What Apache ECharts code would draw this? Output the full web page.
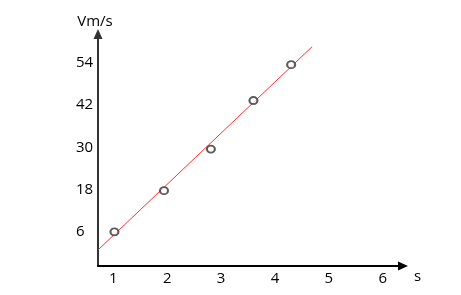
<!DOCTYPE html>
<html>
<head>
<meta charset="utf-8">
<script src="https://cdn.jsdelivr.net/npm/echarts@6/dist/echarts.min.js"></script>
<style>html,body{margin:0;padding:0;background:#fff}#c{width:461px;height:295px}</style>
</head>
<body>
<div id="c"></div>
<script>
// Tick labels
const xTicks = [1, 2, 3, 4, 5, 6];
const yTicks = [6, 18, 30, 42, 54];
// Measured points (time s, speed m/s)
const timeS = [1.02, 1.94, 2.81, 3.6, 4.3];
const speed = [6, 17.7, 29.5, 43.3, 53.5];
// Fitted trend line end points
const fitX = [0.715, 4.69];
const fitY = [0.85, 58.6];

const FONT = '"Open Sans", sans-serif';
const chart = echarts.init(document.getElementById('c'), null, {renderer: 'canvas'});
chart.setOption({
  animation: false,
  backgroundColor: '#fff',
  grid: {left: 98, right: 58, top: 34, bottom: 29, containLabel: false},
  xAxis: {
    type: 'value', min: 0.715, max: 6.376,
    name: 's', nameLocation: 'end', nameGap: 11,
    nameTextStyle: {fontFamily: FONT, fontSize: 15, color: '#000', verticalAlign: 'top', padding: [3, 0, 0, 0]},
    axisLine: {show: true, onZero: false, symbol: ['none', 'triangle'], symbolSize: [9, 10], lineStyle: {color: '#000', width: 2}},
    axisTick: {show: false},
    splitLine: {show: false},
    axisLabel: {customValues: xTicks, fontFamily: FONT, fontSize: 15, color: '#000', margin: 5}
  },
  yAxis: {
    type: 'value', min: -3.7, max: 62.2,
    name: 'Vm/s', nameLocation: 'end', nameGap: 5,
    nameTextStyle: {fontFamily: FONT, fontSize: 15, color: '#000', align: 'center', padding: [0, 6, 0, 0]},
    axisLine: {show: true, onZero: false, symbol: ['none', 'triangle'], symbolSize: [9, 10], lineStyle: {color: '#333', width: 2}},
    axisTick: {show: false},
    splitLine: {show: false},
    axisLabel: {customValues: yTicks, fontFamily: FONT, fontSize: 15, color: '#000', align: 'left', margin: 22}
  },
  series: [
    {
      type: 'line', data: fitX.map((x, i) => [x, fitY[i]]),
      symbol: 'none', lineStyle: {color: '#ff3030', width: 1}, z: 1, silent: true
    },
    {
      type: 'scatter', data: timeS.map((t, i) => [t, speed[i]]),
      symbol: 'emptyCircle', symbolSize: [8, 7],
      itemStyle: {color: '#333', borderColor: '#333', borderWidth: 1}, z: 3
    }
  ]
});
</script>
</body>
</html>
